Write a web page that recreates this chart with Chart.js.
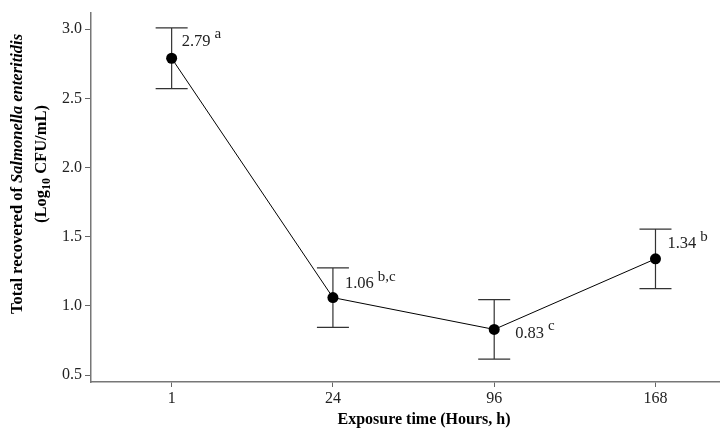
<!DOCTYPE html>
<html>
<head>
<meta charset="utf-8">
<script src="https://cdn.jsdelivr.net/npm/chart.js@4"></script>
<style>
  html, body { margin: 0; padding: 0; background: #fff; }
  #wrap { width: 720px; height: 430px; }
</style>
</head>
<body>
<div id="wrap"><canvas id="chart" width="720" height="430"></canvas></div>
<script>
// exposure times (hours) and recovered counts (log10 CFU/mL)
const hours = ['1', '24', '96', '168'];
const means = [2.79, 1.06, 0.83, 1.34];
const errs = [0.22, 0.215, 0.215, 0.215];
const letters = ['a', 'b,c', 'c', 'b'];
const yTicks = [0.5, 1.0, 1.5, 2.0, 2.5, 3.0];

// label offset from the point (px)
const labelOffsets = [[10, -17], [12, -14], [21, 4], [12, -15]];

const serif = '"Liberation Serif", "DejaVu Serif", serif';

const errorBars = {
  id: 'errorBars',
  afterDatasetsDraw(chart) {
    const { ctx, scales: { x, y } } = chart;
    ctx.save();
    ctx.strokeStyle = '#333';
    ctx.lineWidth = 1.2;
    means.forEach((m, i) => {
      const px = x.getPixelForValue(i);
      const top = y.getPixelForValue(m + errs[i]);
      const bot = y.getPixelForValue(m - errs[i]);
      ctx.beginPath();
      ctx.moveTo(px, top); ctx.lineTo(px, bot);
      ctx.moveTo(px - 16, top); ctx.lineTo(px + 16, top);
      ctx.moveTo(px - 16, bot); ctx.lineTo(px + 16, bot);
      ctx.stroke();
    });
    // points on top of the bars
    ctx.fillStyle = '#000';
    means.forEach((m, i) => {
      ctx.beginPath();
      ctx.arc(x.getPixelForValue(i), y.getPixelForValue(m), 5.5, 0, Math.PI * 2);
      ctx.fill();
    });
    // value labels with superscript letters
    ctx.textBaseline = 'middle';
    means.forEach((m, i) => {
      const px = x.getPixelForValue(i) + labelOffsets[i][0];
      const py = y.getPixelForValue(m) + labelOffsets[i][1];
      ctx.font = '16.5px ' + serif;
      ctx.fillStyle = '#222';
      const txt = m.toFixed(2);
      ctx.fillText(txt, px, py);
      const w = ctx.measureText(txt).width;
      ctx.font = '15px ' + serif;
      ctx.fillText(letters[i], px + w + 4, py - 7);
    });
    ctx.restore();
  }
};

const axisTitles = {
  id: 'axisTitles',
  afterDraw(chart) {
    const { ctx } = chart;
    ctx.save();
    ctx.fillStyle = '#000';
    ctx.textBaseline = 'middle';
    // x title
    ctx.font = 'bold 16px ' + serif;
    ctx.textAlign = 'center';
    ctx.fillText('Exposure time (Hours, h)', 424, 420);

    // y title, two rotated lines
    ctx.translate(18, 174);
    ctx.rotate(-Math.PI / 2);
    ctx.textAlign = 'left';
    const parts = [
      ['bold 16.5px ' + serif, 'Total recovered of '],
      ['italic bold 16.5px ' + serif, 'Salmonella enteritidis']
    ];
    let total = 0;
    parts.forEach(p => { ctx.font = p[0]; total += ctx.measureText(p[1]).width; });
    let xx = -total / 2;
    parts.forEach(p => { ctx.font = p[0]; ctx.fillText(p[1], xx, 0); xx += ctx.measureText(p[1]).width; });

    const l2 = [
      ['bold 16.5px ' + serif, '(Log', 0],
      ['bold 12px ' + serif, '10', 5],
      ['bold 16.5px ' + serif, ' CFU/mL)', 0]
    ];
    total = 0;
    l2.forEach(p => { ctx.font = p[0]; total += ctx.measureText(p[1]).width; });
    xx = -total / 2 + 10;
    l2.forEach(p => { ctx.font = p[0]; ctx.fillText(p[1], xx, 24 + p[2]); xx += ctx.measureText(p[1]).width; });
    ctx.restore();
  }
};

new Chart(document.getElementById('chart'), {
  type: 'line',
  data: {
    datasets: [{
      data: means.map((m, i) => ({ x: i, y: m })),
      borderColor: '#000',
      borderWidth: 1,
      pointRadius: 0,
      tension: 0
    }]
  },
  options: {
    responsive: false,
    animation: false,
    layout: { padding: { top: 10, right: 0, left: 0, bottom: 0 } },
    plugins: { legend: { display: false }, tooltip: { enabled: false } },
    scales: {
      x: {
        type: 'linear',
        min: -0.5,
        max: 3.4,
        afterBuildTicks: s => { s.ticks = hours.map((h, i) => ({ value: i })); },
        afterFit: s => { s.height = 48; },
        ticks: {
          callback: v => hours[v],
          font: { family: serif, size: 16 },
          color: '#222',
          padding: 2,
          maxRotation: 0
        },
        grid: { drawOnChartArea: false, drawTicks: true, tickLength: 5, color: '#666' },
        border: { color: '#777', width: 1.5 }
      },
      y: {
        min: 0.45,
        max: 3.12,
        afterBuildTicks: s => { s.ticks = yTicks.map(v => ({ value: v })); },
        afterFit: s => { s.width = 91; },
        ticks: {
          callback: v => v.toFixed(1),
          font: { family: serif, size: 16 },
          color: '#222',
          padding: 3
        },
        grid: { drawOnChartArea: false, drawTicks: true, tickLength: 6, color: '#666' },
        border: { color: '#777', width: 1.5 }
      }
    }
  },
  plugins: [errorBars, axisTitles]
});
</script>
</body>
</html>
